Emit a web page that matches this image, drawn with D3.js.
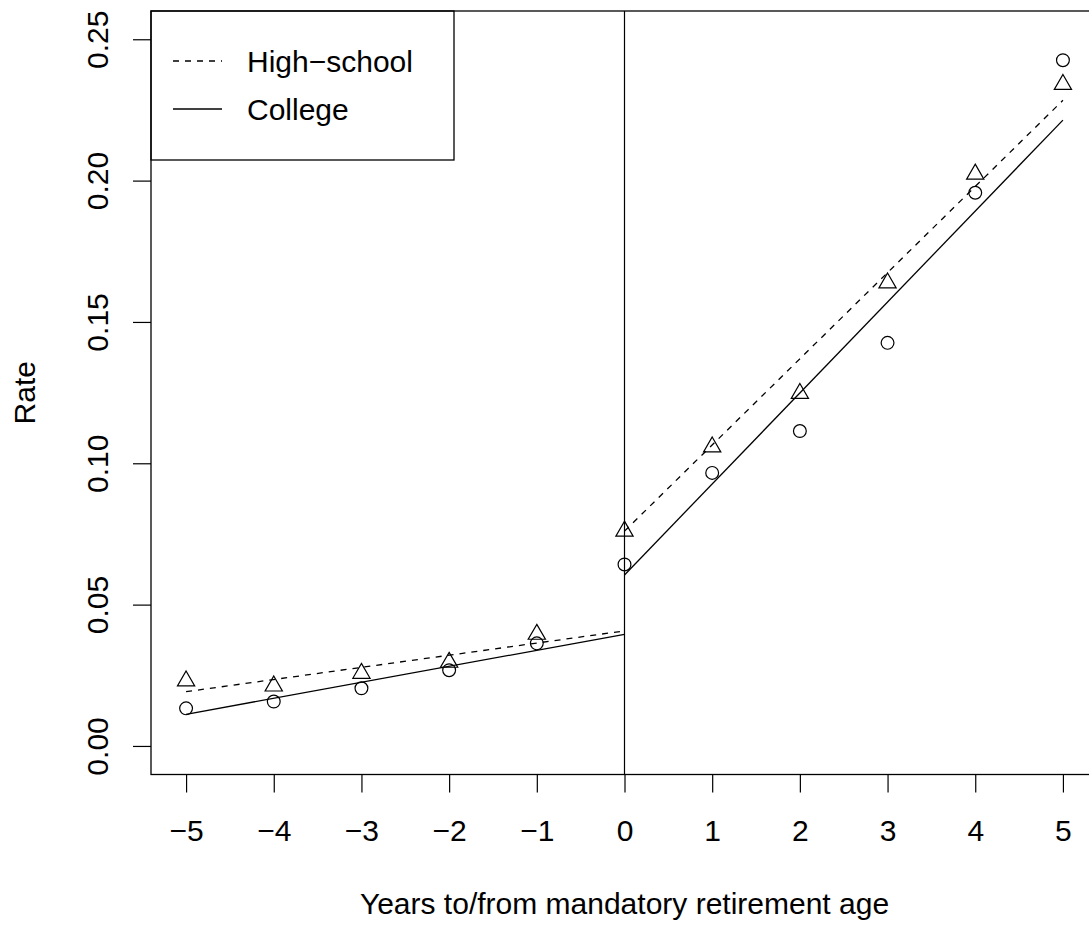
<!DOCTYPE html>
<html>
<head>
<meta charset="utf-8">
<script src="https://cdn.jsdelivr.net/npm/d3@7"></script>
<style>
  body { margin: 0; background: #fff; }
  svg { display: block; font-family: "Liberation Sans", Arial, sans-serif; }
</style>
</head>
<body>
<svg id="chart" width="1089" height="925"></svg>
<script>
// years relative to mandatory retirement age
var years = [-5, -4, -3, -2, -1, 0, 1, 2, 3, 4, 5]

// observed rates (triangles = high-school, circles = college)
var highSchool = [0.0230, 0.0212, 0.0257, 0.0296, 0.0395, 0.0760, 0.1058, 0.1247, 0.1638, 0.2023, 0.2340]
var college = [0.0133, 0.0157, 0.0204, 0.0268, 0.0363, 0.0642, 0.0966, 0.1114, 0.1426, 0.1957, 0.2426]

// fitted segments, before and after the cutoff
var highSchoolFit = [[[-5, 0.0192], [0, 0.0407]], [[0, 0.0760], [5, 0.2284]]]
var collegeFit = [[[-5, 0.0112], [0, 0.0395]], [[0, 0.0605], [5, 0.2214]]]

var xTicks = [-5, -4, -3, -2, -1, 0, 1, 2, 3, 4, 5]
var yTicks = [0, 0.05, 0.10, 0.15, 0.20, 0.25]
var legendLabels = ['High\u2212school', 'College']

var svg = d3.select('#chart')

// plot region (right edge runs past the window, as in the original)
var plotLeft = 151, plotRight = 1098, plotTop = 11, plotBottom = 774.5

var x = d3.scaleLinear().domain([-5.4, 5.4]).range([plotLeft, plotRight])
var y = d3.scaleLinear().domain([-0.0101, 0.26]).range([plotBottom, plotTop])

var fontSize = 30
var minus = function (v) { return String(v).replace('-', '\u2212') }

// x axis
var gx = svg.append('g')
  .attr('transform', 'translate(0,' + plotBottom + ')')
  .call(d3.axisBottom(x).tickValues(xTicks).tickSize(18).tickFormat(minus))
gx.select('.domain').remove()
gx.selectAll('line').attr('stroke', '#000').attr('stroke-width', 1.2)
gx.selectAll('text')
  .attr('y', 66.5)
  .attr('dy', null)
  .style('font-size', fontSize + 'px')
  .attr('fill', '#000')
  .attr('font-family', null)

// y axis
var gy = svg.append('g')
  .attr('transform', 'translate(' + plotLeft + ',0)')
  .call(d3.axisLeft(y).tickValues(yTicks).tickSize(18).tickFormat(d3.format('.2f')))
gy.select('.domain').remove()
gy.selectAll('line').attr('stroke', '#000').attr('stroke-width', 1.2)
gy.selectAll('text')
  .attr('x', 0)
  .attr('y', -43)
  .attr('dy', null)
  .attr('transform', 'rotate(-90)')
  .attr('text-anchor', 'middle')
  .style('font-size', fontSize + 'px')
  .attr('fill', '#000')
  .attr('font-family', null)

// plot box
svg.append('rect')
  .attr('x', plotLeft)
  .attr('y', plotTop)
  .attr('width', plotRight - plotLeft)
  .attr('height', plotBottom - plotTop)
  .attr('fill', 'none')
  .attr('stroke', '#000')
  .attr('stroke-width', 1.3)

// axis titles
svg.append('text')
  .attr('x', (plotLeft + plotRight) / 2)
  .attr('y', 914)
  .attr('text-anchor', 'middle')
  .style('font-size', fontSize + 'px')
  .text('Years to/from mandatory retirement age')

svg.append('text')
  .attr('transform', 'translate(35,' + ((plotTop + plotBottom) / 2) + ')rotate(-90)')
  .attr('text-anchor', 'middle')
  .style('font-size', fontSize + 'px')
  .text('Rate')

// cutoff line
svg.append('line')
  .attr('x1', x(0)).attr('x2', x(0))
  .attr('y1', plotTop).attr('y2', plotBottom)
  .attr('stroke', '#000')
  .attr('stroke-width', 1.2)

// fitted lines
var line = d3.line().x(function (d) { return x(d[0]) }).y(function (d) { return y(d[1]) })

svg.selectAll('path.hs-fit')
  .data(highSchoolFit)
  .enter().append('path')
  .attr('class', 'hs-fit')
  .attr('d', line)
  .attr('fill', 'none')
  .attr('stroke', '#000')
  .attr('stroke-width', 1.3)
  .attr('stroke-dasharray', '6,6')

svg.selectAll('path.col-fit')
  .data(collegeFit)
  .enter().append('path')
  .attr('class', 'col-fit')
  .attr('d', line)
  .attr('fill', 'none')
  .attr('stroke', '#000')
  .attr('stroke-width', 1.3)

// points: circles for college
svg.selectAll('circle.col')
  .data(college)
  .enter().append('circle')
  .attr('class', 'col')
  .attr('cx', function (d, i) { return x(years[i]) })
  .attr('cy', function (d) { return y(d) })
  .attr('r', 6.4)
  .attr('fill', 'none')
  .attr('stroke', '#000')
  .attr('stroke-width', 1.2)

// triangles for high-school (R pch 2 geometry)
var xc = 6.4
var tri = function (cx, cy) {
  var r = 1.5551 * xc, h = 1.3468 * xc, b = 0.7776 * xc
  return 'M' + cx + ',' + (cy - r) + 'L' + (cx + h) + ',' + (cy + b) + 'L' + (cx - h) + ',' + (cy + b) + 'Z'
}
svg.selectAll('path.hs')
  .data(highSchool)
  .enter().append('path')
  .attr('class', 'hs')
  .attr('d', function (d, i) { return tri(x(years[i]), y(d)) })
  .attr('fill', 'none')
  .attr('stroke', '#000')
  .attr('stroke-width', 1.2)

// legend
var legend = svg.append('g')
legend.append('rect')
  .attr('x', plotLeft)
  .attr('y', plotTop)
  .attr('width', 454 - plotLeft)
  .attr('height', 160 - plotTop)
  .attr('fill', 'none')
  .attr('stroke', '#000')
  .attr('stroke-width', 1.3)

var legendY = [61, 109]
legend.selectAll('line')
  .data(legendLabels)
  .enter().append('line')
  .attr('x1', 173).attr('x2', 222)
  .attr('y1', function (d, i) { return legendY[i] })
  .attr('y2', function (d, i) { return legendY[i] })
  .attr('stroke', '#000')
  .attr('stroke-width', 1.3)
  .attr('stroke-dasharray', function (d, i) { return i === 0 ? '6,6' : null })

legend.selectAll('text')
  .data(legendLabels)
  .enter().append('text')
  .attr('x', 247)
  .attr('y', function (d, i) { return legendY[i] + 10.7 })
  .style('font-size', fontSize + 'px')
  .text(function (d) { return d })
</script>
</body>
</html>
